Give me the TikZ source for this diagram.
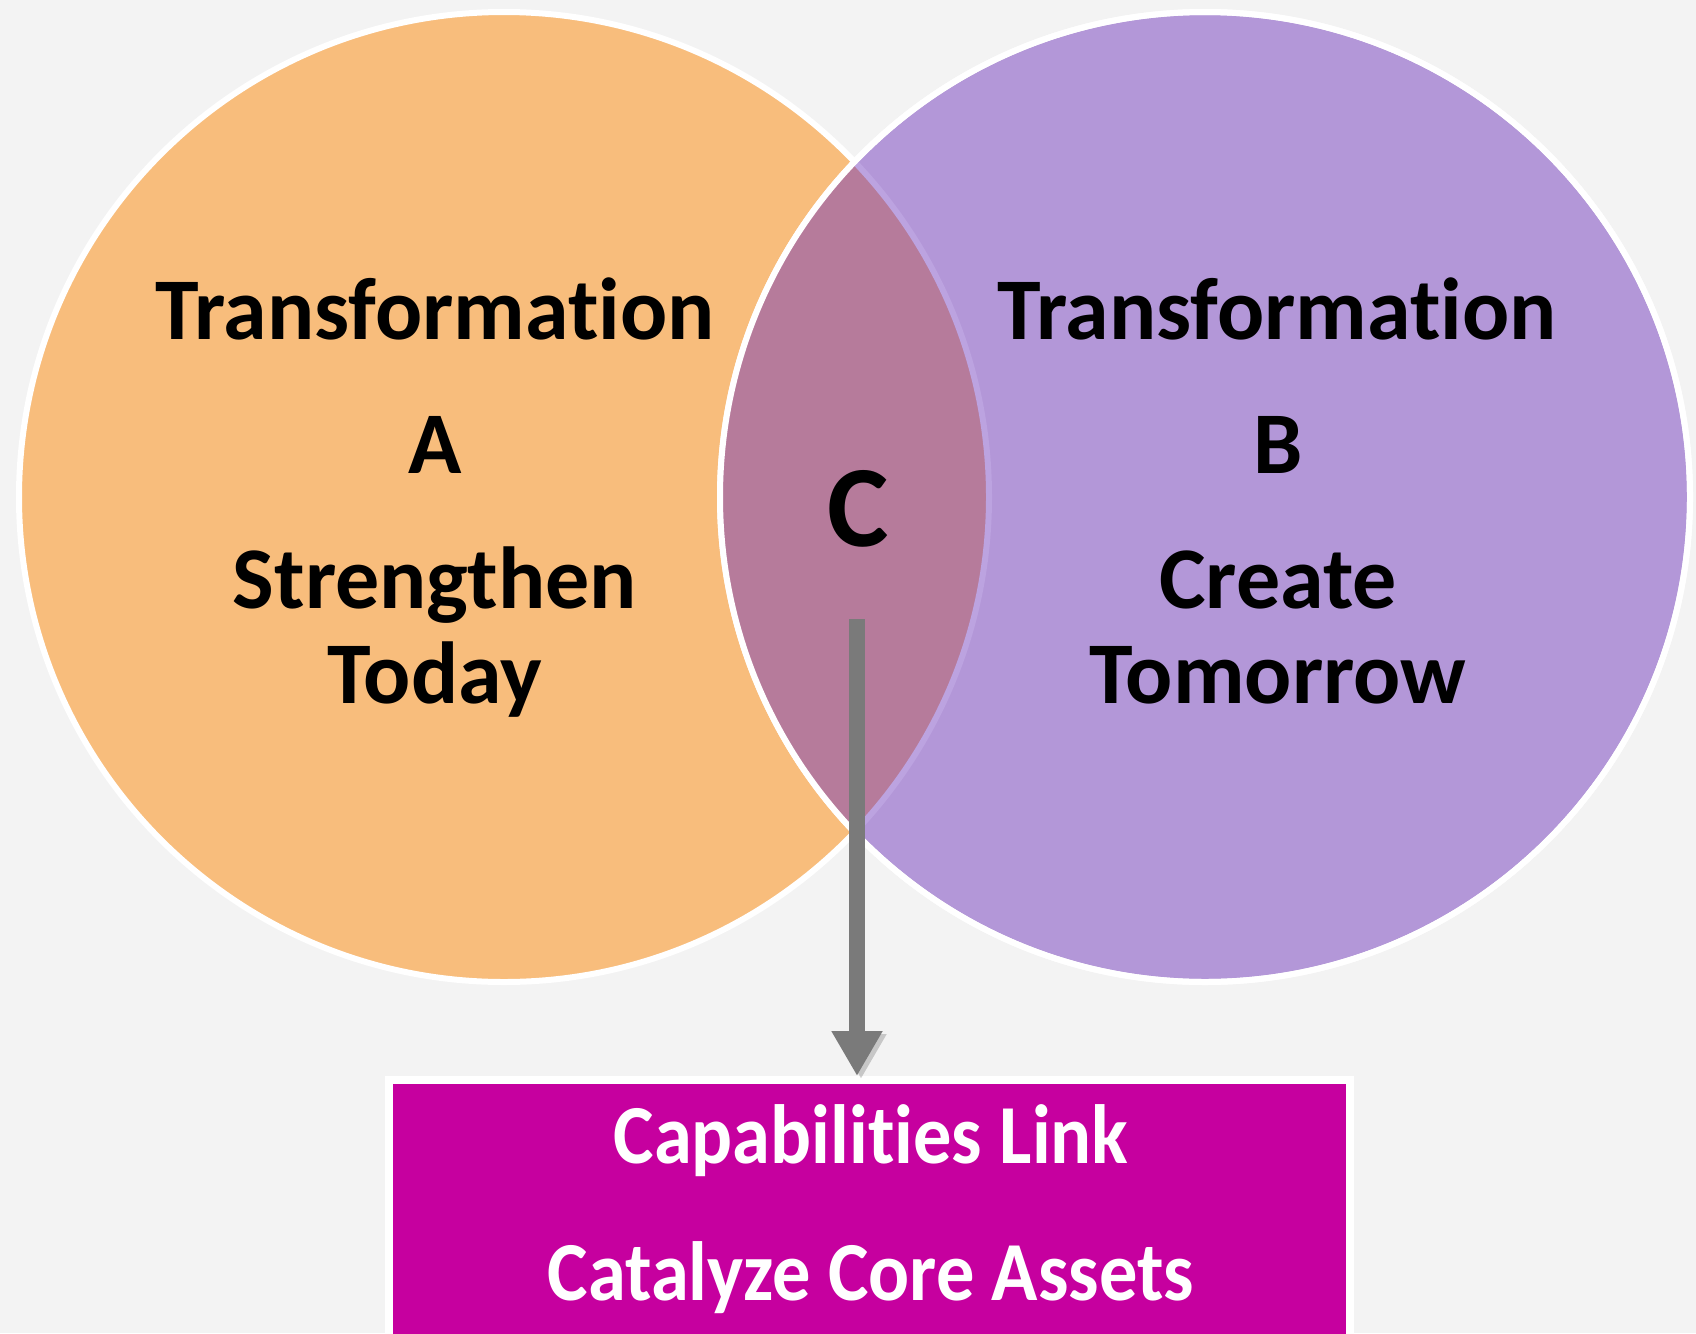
\documentclass[tikz,border=0pt]{standalone}
\usepackage{fontspec}
\setmainfont{Carlito}[Ligatures=NoCommon]
\usetikzlibrary{arrows.meta}
\definecolor{vennbg}{HTML}{F3F3F3}
\definecolor{vennorange}{HTML}{F8BD7C}
\definecolor{vennpurple}{HTML}{B397D8}
\definecolor{vennlens}{HTML}{B67B9B}
\definecolor{vennedge}{HTML}{BCA3E0}
\definecolor{venngray}{HTML}{7A7A7A}
\definecolor{vennmagenta}{HTML}{C6009F}
\newcommand{\boxline}[1]{\scalebox{0.91}[1]{#1}}

\begin{document}
\begin{tikzpicture}[x=1pt, y=-1pt,
  venncircle/.style={circle, minimum size=970pt, inner sep=0pt, draw=white, line width=6pt},
  circtext/.style={anchor=base, inner sep=0pt, font=\bfseries\fontsize{88}{95}\selectfont},
  bigtext/.style={anchor=base, inner sep=0pt, font=\bfseries\fontsize{116}{120}\selectfont},
  boxtext/.style={anchor=base, inner sep=0pt, text=white, font=\bfseries\fontsize{84}{90}\selectfont},
  linkarrow/.style={draw=venngray, line width=16pt, -{Triangle[width=48pt,length=45pt]},
    preaction={draw=black, opacity=.18, transform canvas={shift={(4pt,-3pt)}}}}]
\useasboundingbox[fill=vennbg] (0,0) rectangle (1696,1333);

% the two circles and their overlap
\node[venncircle, fill=vennorange] (A) at (504,497) {};
\node[venncircle, fill=vennpurple] (B) at (1205,497) {};
\begin{scope}
  \clip (A.center) circle (485);
  \fill[vennlens] (B.center) circle (485);
\end{scope}
\begin{scope}
  \clip (B.center) circle (482);
  \draw[vennedge, line width=6pt] (A.center) circle (485);
\end{scope}
\draw[white, line width=6pt] (B.center) circle (485);

% texts
\node[circtext] (ttA) at (435,339) {Transformation};
\node[circtext] (lA) at (435,473) {A};
\node[circtext] (sA) at (435,608) {Strengthen};
\node[circtext] (dA) at (435,703) {Today};
\node[circtext] (ttB) at (1277,339) {Transformation};
\node[circtext] (lB) at (1278,473) {B};
\node[circtext] (cB) at (1278,608) {Create};
\node[circtext] (dB) at (1278,703) {Tomorrow};
\node[bigtext] (lC) at (858,546) {C};

% link box
\node[draw=white, line width=8pt, fill=vennmagenta, minimum width=961pt, minimum height=258pt,
  inner sep=0pt, anchor=north] (box) at (869.5,1076) {};
\node[boxtext] (cap) at (871,1163) {\boxline{Capabilities Link}};
\node[boxtext] (cat) at (871,1300) {\boxline{Catalyze Core Assets}};

\coordinate (cstart) at (857,619);
\draw[linkarrow] (cstart) -- (cstart |- box.north);
\end{tikzpicture}
\end{document}
